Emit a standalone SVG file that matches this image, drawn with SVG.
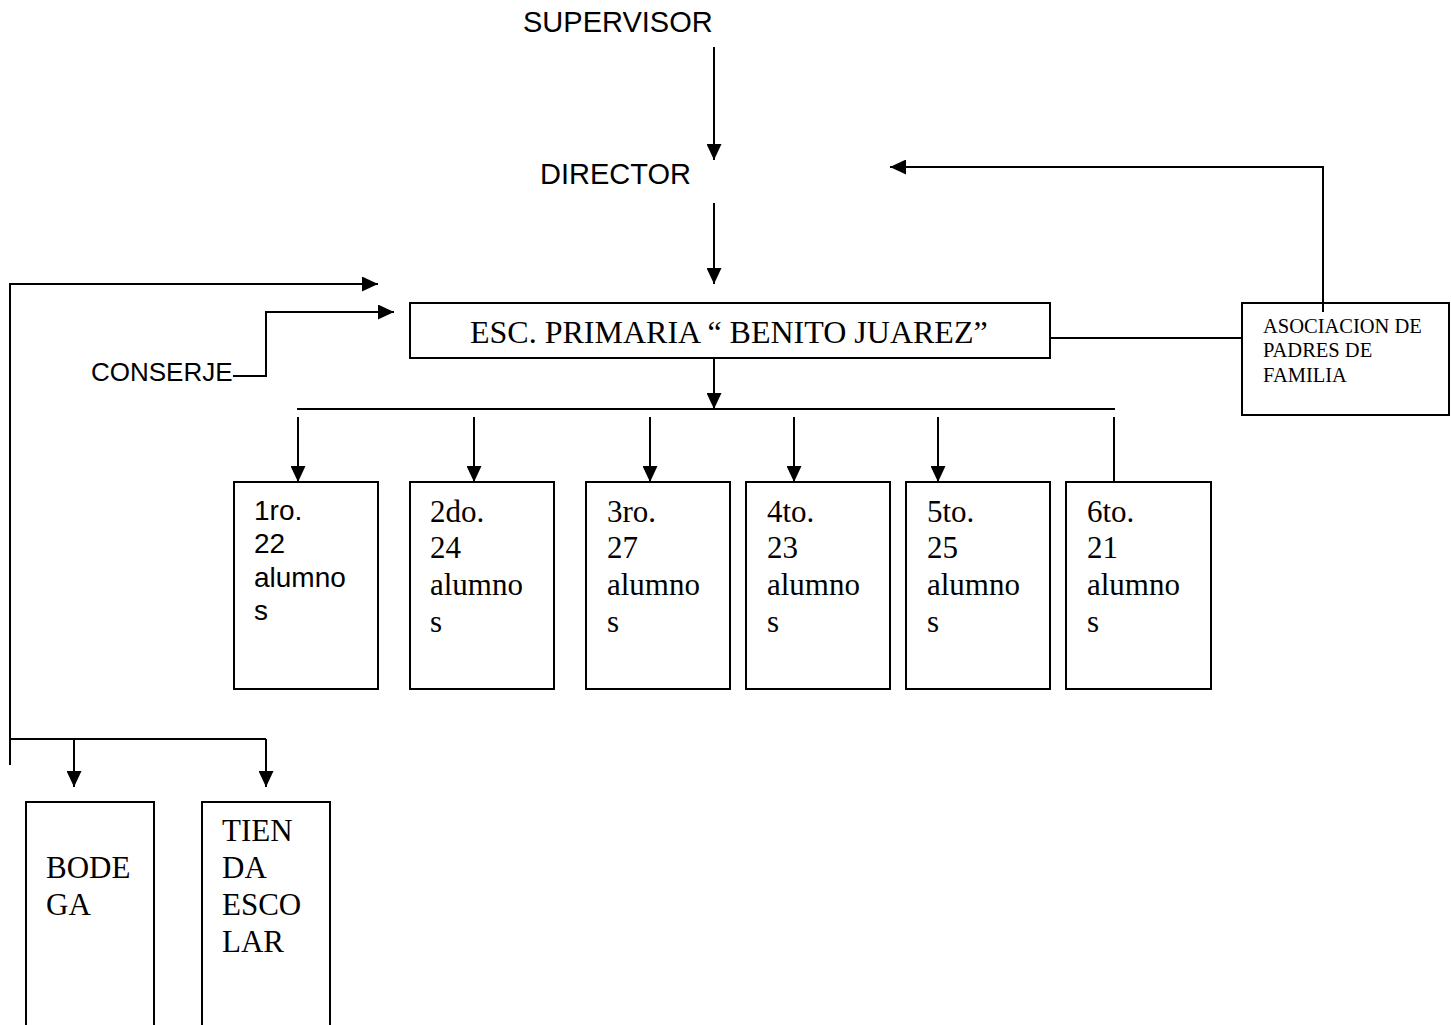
<svg xmlns="http://www.w3.org/2000/svg" width="1451" height="1025" viewBox="0 0 1451 1025">
<style>
.box{fill:#fff;stroke:#000;stroke-width:2}
.boxo{fill:none;stroke:#000;stroke-width:2}
.ln{fill:none;stroke:#000;stroke-width:2}
.ar{fill:none;stroke:#000;stroke-width:2;marker-end:url(#ah)}
.sans{font-family:"Liberation Sans",Arial,sans-serif;fill:#000}
.serif{font-family:"Liberation Serif","Times New Roman",serif;fill:#000}
.g{font-size:28px}
.t{font-size:31px}
</style>
<defs>
<marker id="ah" markerUnits="userSpaceOnUse" markerWidth="16" markerHeight="15" refX="16" refY="7.5" orient="auto">
<path d="M0,0 L16,7.5 L0,15 z" fill="#000"/>
</marker>
</defs>
<rect width="1451" height="1025" fill="#fff"/>

<g id="connectors">
<line class="ar" x1="714" y1="47" x2="714" y2="160"/>
<line class="ar" x1="714" y1="203" x2="714" y2="284"/>
<line class="ar" x1="714" y1="359" x2="714" y2="409"/>
<line class="ln" x1="297" y1="409" x2="1115" y2="409"/>
<line class="ar" x1="298" y1="417" x2="298" y2="482"/>
<line class="ar" x1="474" y1="417" x2="474" y2="482"/>
<line class="ar" x1="650" y1="417" x2="650" y2="482"/>
<line class="ar" x1="794" y1="417" x2="794" y2="482"/>
<line class="ar" x1="938" y1="417" x2="938" y2="482"/>
<line class="ln" x1="1114" y1="417" x2="1114" y2="482"/>
<line class="ln" x1="1050" y1="338" x2="1242" y2="338"/>
<polyline class="ar" points="1323,312 1323,167 890,167"/>
<polyline class="ln" points="233,376 266,376"/>
<polyline class="ar" points="266,377 266,312 394,312"/>
<polyline class="ar" points="10,765 10,284 378,284"/>
<polyline class="ln" points="10,739 266,739"/>
<line class="ar" x1="74" y1="739" x2="74" y2="787"/>
<line class="ar" x1="266" y1="739" x2="266" y2="787"/>
</g>

<g id="supervisor"><text class="sans" x="523" y="32" font-size="29">SUPERVISOR</text></g>
<g id="director"><text class="sans" x="540" y="184" font-size="29">DIRECTOR</text></g>

<g id="escuela">
<rect class="box" x="410" y="303" width="640" height="55"/>
<text class="serif" x="470" y="343" font-size="32">ESC. PRIMARIA “ BENITO JUAREZ”</text>
</g>

<g id="conserje"><text class="sans" x="91" y="381" font-size="26">CONSERJE</text></g>

<g id="asociacion">
<rect class="boxo" x="1242" y="303" width="207" height="112"/>
<text class="serif" x="1263" y="333" font-size="20.5">ASOCIACION DE</text>
<text class="serif" x="1263" y="357" font-size="20.5">PADRES DE</text>
<text class="serif" x="1263" y="382" font-size="20.5">FAMILIA</text>
</g>

<g id="g1">
<rect class="box" x="234" y="482" width="144" height="207"/>
<text class="sans g" x="254" y="520">1ro.</text>
<text class="sans g" x="254" y="553">22</text>
<text class="sans g" x="254" y="587">alumno</text>
<text class="sans g" x="254" y="620">s</text>
</g>

<g id="g2">
<rect class="box" x="410" y="482" width="144" height="207"/>
<text class="serif t" x="430" y="522">2do.</text>
<text class="serif t" x="430" y="558">24</text>
<text class="serif t" x="430" y="595">alumno</text>
<text class="serif t" x="430" y="632">s</text>
</g>

<g id="g3">
<rect class="box" x="586" y="482" width="144" height="207"/>
<text class="serif t" x="607" y="522">3ro.</text>
<text class="serif t" x="607" y="558">27</text>
<text class="serif t" x="607" y="595">alumno</text>
<text class="serif t" x="607" y="632">s</text>
</g>

<g id="g4">
<rect class="box" x="746" y="482" width="144" height="207"/>
<text class="serif t" x="767" y="522">4to.</text>
<text class="serif t" x="767" y="558">23</text>
<text class="serif t" x="767" y="595">alumno</text>
<text class="serif t" x="767" y="632">s</text>
</g>

<g id="g5">
<rect class="box" x="906" y="482" width="144" height="207"/>
<text class="serif t" x="927" y="522">5to.</text>
<text class="serif t" x="927" y="558">25</text>
<text class="serif t" x="927" y="595">alumno</text>
<text class="serif t" x="927" y="632">s</text>
</g>

<g id="g6">
<rect class="box" x="1066" y="482" width="145" height="207"/>
<text class="serif t" x="1087" y="522">6to.</text>
<text class="serif t" x="1087" y="558">21</text>
<text class="serif t" x="1087" y="595">alumno</text>
<text class="serif t" x="1087" y="632">s</text>
</g>

<g id="bodega">
<path class="ln" d="M26,1026 V802 H154 V1026"/>
<text class="serif t" x="46" y="878">BODE</text>
<text class="serif t" x="46" y="915">GA</text>
</g>

<g id="tienda">
<path class="ln" d="M202,1026 V802 H330 V1026"/>
<text class="serif t" x="222" y="841">TIEN</text>
<text class="serif t" x="222" y="878">DA</text>
<text class="serif t" x="222" y="915">ESCO</text>
<text class="serif t" x="222" y="952">LAR</text>
</g>
</svg>
